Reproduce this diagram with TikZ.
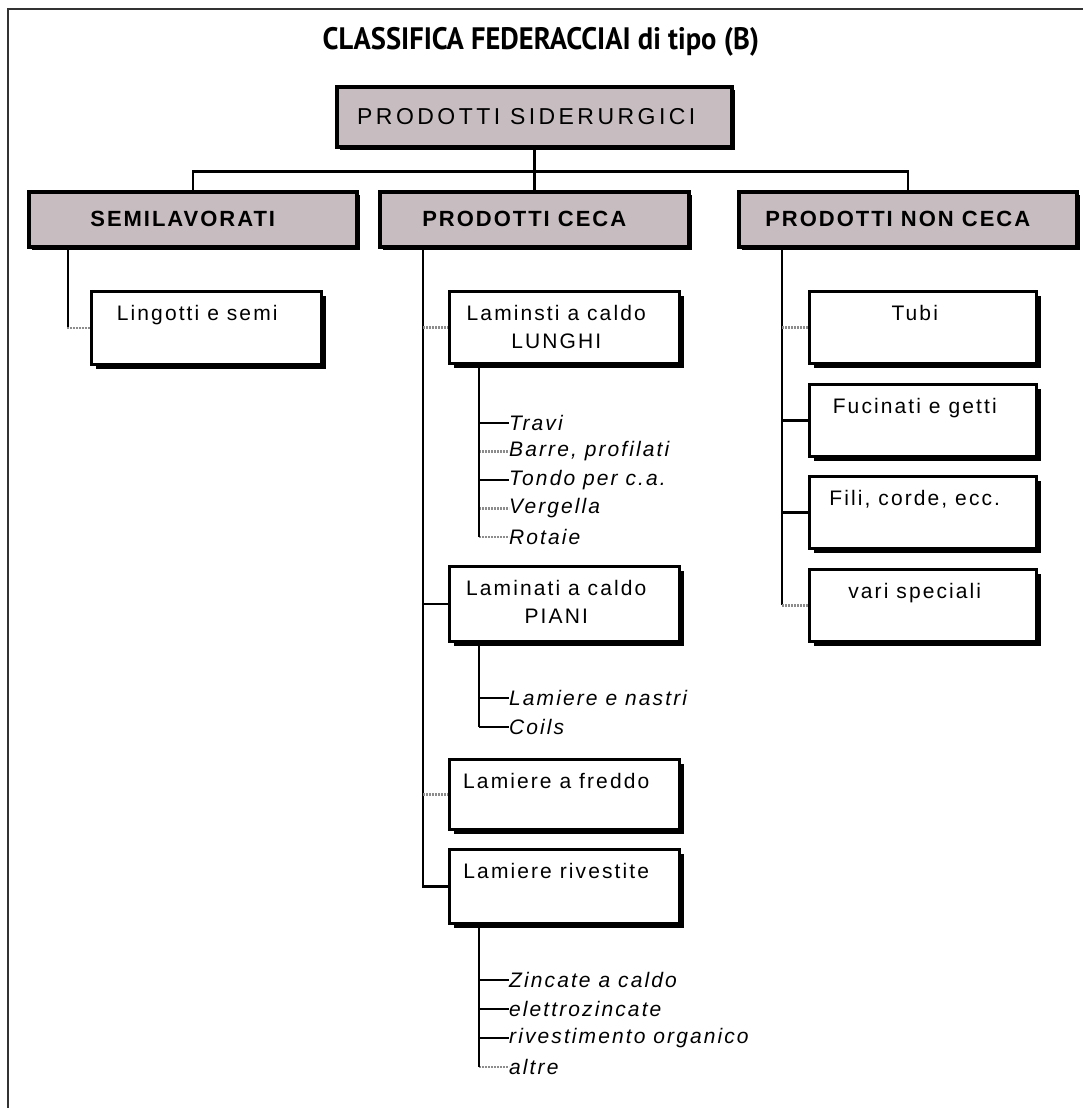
\documentclass[tikz,border=0pt]{standalone}
\usepackage{fontspec}
\setmainfont{Liberation Sans}
\newfontfamily\titlefont[FakeStretch=0.92]{PT Sans Bold}
\newfontfamily\headfont[LetterSpace=9]{Liberation Sans Bold}
\newfontfamily\rootfont[LetterSpace=15]{Liberation Sans}
\newfontfamily\boxfont[LetterSpace=10]{Liberation Sans}
\newfontfamily\itemfont[LetterSpace=10]{Liberation Sans Italic}
\usepackage{tikz}
\usetikzlibrary{shadows}
\usetikzlibrary{positioning}
\definecolor{headgrey}{RGB}{199,189,193}
\tikzstyle{headbox}=[rectangle,draw,line width=3.5pt,fill=headgrey,inner sep=0pt,anchor=north west,drop shadow={shadow xshift=3pt,shadow yshift=-3pt,fill=black,opacity=1}]
\tikzstyle{subbox}=[rectangle,draw,line width=2.5pt,fill=white,inner sep=0pt,anchor=north west,drop shadow={shadow xshift=4.5pt,shadow yshift=-4.5pt,fill=black,opacity=1}]
\tikzstyle{boxtext}=[anchor=north,inner sep=0pt,align=center,font=\boxfont\fontsize{21}{28}\selectfont]
\tikzstyle{item}=[anchor=west,inner sep=0pt,font=\itemfont\fontsize{21}{24}\selectfont]
\tikzstyle{link} = [draw,line width=2.5pt]
\tikzstyle{faintlink} = [draw,line width=2.5pt,black!45,dash pattern=on 2pt off 1pt]

\begin{document}
\begin{tikzpicture}[x=1pt,y=-1pt]

 \useasboundingbox (0,0) rectangle (1083,1108);
 \draw[line width=2.5pt, black!80] (1083,9) -- (8,9) -- (8,1108);

 \node[font=\titlefont\fontsize{31}{34}\selectfont] (title) at (541,42) {CLASSIFICA FEDERACCIAI di tipo (B)};

 %top levels
 \node[headbox, minimum width=395pt, minimum height=60pt, font=\rootfont\fontsize{23}{26}\selectfont] (root) at (335,85) {PRODOTTI SIDERURGICI\hspace*{16pt}};

 \foreach \x/\w/\name/\label in {27/328/semi/SEMILAVORATI, 378/309/ceca/PRODOTTI CECA, 737/338/noceca/PRODOTTI NON CECA}
        \node[headbox, minimum width=\w pt, minimum height=55pt, font=\headfont\fontsize{22}{24}\selectfont] (\name) at (\x,190) {\label\hspace*{20pt}};

 \path[link] (root.south) -- ++(0,23) coordinate (bus);
 \path[link] (bus) -| (semi.north);
 \path[link] (bus) -| (noceca.north);
 \path[link] (bus) -- (ceca.north);

 %SEMILAVORATI
 \node[subbox, minimum width=230pt, minimum height=73pt] (lingotti) at (90,290) {};
 \node[boxtext, xshift=-9pt, yshift=-15pt] at (lingotti.north) {Lingotti e semi};
 \path[faintlink] ([xshift=41pt]semi.south west) |- (lingotti.west);
 \path[link] ([xshift=41pt]semi.south west) -- ++(0,78);

 %PRODOTTI CECA
 \foreach \y/\h/\name/\label in {290/72/lunghi/{Laminsti a caldo\\LUNGHI}, 565/75/piani/{Laminati a caldo\\PIANI}, 758/70/freddo/{Lamiere a freddo}, 848/74/rivestite/{Lamiere rivestite}}
   {
        \node[subbox, minimum width=230pt, minimum height=\h pt] (\name) at (448,\y) {};
        \node[boxtext, xshift=-8pt, yshift=-15pt] at (\name.north) {\label};
   }

 \coordinate (ctrunk) at ([xshift=45pt]ceca.south west);
 \path[link] (ctrunk) |- (rivestite.west);
 \foreach \b/\sty in {lunghi/faintlink, piani/link, freddo/faintlink}
        \path[\sty] (ctrunk |- \b.west) -- (\b.west);

 %LUNGHI
 \foreach \y/\name/\label/\sty in {423/travi/Travi/link, 451.5/barre/{Barre, profilati}/faintlink, 480/tondo/Tondo per c.a./link, 508.5/vergella/Vergella/faintlink, 537/rotaie/Rotaie/faintlink}
   {
        \node[item] (\name) at (509,\y) {\label};
        \path[\sty] ([xshift=31pt]lunghi.south west |- \name.west) -- (\name.west);
   }
 \path[link] ([xshift=31pt]lunghi.south west) -- ([xshift=31pt]lunghi.south west |- rotaie.west);

 %PIANI
 \foreach \y/\name/\label/\sty in {698/nastri/Lamiere e nastri/link, 727/coils/Coils/link}
   {
        \node[item] (\name) at (509,\y) {\label};
        \path[\sty] ([xshift=31pt]piani.south west |- \name.west) -- (\name.west);
   }
 \path[link] ([xshift=31pt]piani.south west) -- ([xshift=31pt]piani.south west |- coils.west);

 %RIVESTITE
 \foreach \y/\name/\label/\sty in {980/zincate/Zincate a caldo/link, 1009/elettro/elettrozincate/link, 1038/organico/rivestimento organico/link, 1067/altre/altre/faintlink}
   {
        \node[item] (\name) at (509,\y) {\label};
        \path[\sty] ([xshift=31pt]rivestite.south west |- \name.west) -- (\name.west);
   }
 \path[link] ([xshift=31pt]rivestite.south west) -- ([xshift=31pt]rivestite.south west |- altre.west);

 %PRODOTTI NON CECA
 \foreach \y/\name/\label in {290/tubi/Tubi, 383/fucinati/Fucinati e getti, 475/fili/{Fili, corde, ecc.}, 568/vari/vari speciali}
   {
        \node[subbox, minimum width=227pt, minimum height=72pt] (\name) at (808,\y) {};
        \node[boxtext, xshift=-8pt, yshift=-15pt] at (\name.north) {\label};
   }

 \coordinate (ntrunk) at ([xshift=45pt]noceca.south west);
 \path[link] (ntrunk) -- (ntrunk |- vari.west);
 \foreach \b/\sty in {tubi/faintlink, fucinati/link, fili/link, vari/faintlink}
        \path[\sty] (ntrunk |- \b.west) -- (\b.west);

\end{tikzpicture}
\end{document}
